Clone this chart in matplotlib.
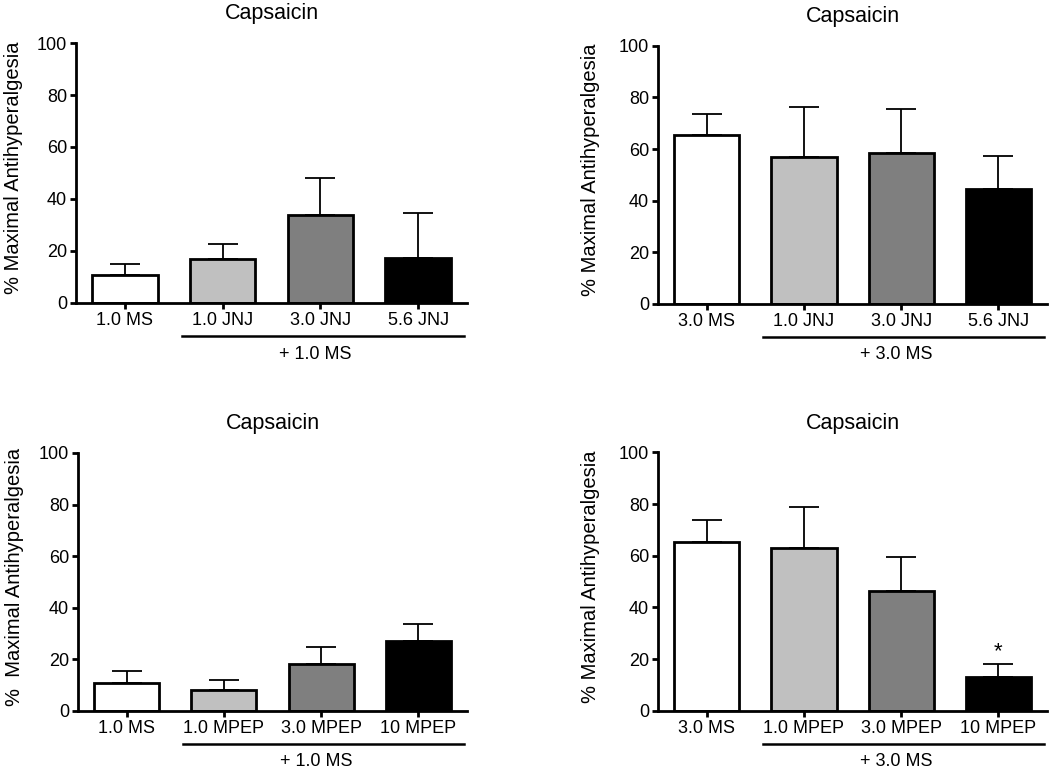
import matplotlib
matplotlib.use("Agg")
import matplotlib.pyplot as plt
import matplotlib.transforms as mtransforms

plt.rcParams["font.family"] = ["Liberation Sans", "DejaVu Sans"]

# data (mean and upper SEM)
jnj_labels_low = ["1.0 MS", "1.0 JNJ", "3.0 JNJ", "5.6 JNJ"]
jnj_labels_high = ["3.0 MS", "1.0 JNJ", "3.0 JNJ", "5.6 JNJ"]
mpep_labels_low = ["1.0 MS", "1.0 MPEP", "3.0 MPEP", "10 MPEP"]
mpep_labels_high = ["3.0 MS", "1.0 MPEP", "3.0 MPEP", "10 MPEP"]

jnj_low_mean = [10.6, 17.0, 33.8, 17.4]
jnj_low_sem = [4.3, 5.8, 14.2, 17.1]
jnj_high_mean = [65.4, 56.9, 58.5, 44.7]
jnj_high_sem = [8.2, 19.3, 17.0, 12.4]
mpep_low_mean = [10.7, 8.0, 18.0, 27.2]
mpep_low_sem = [4.6, 4.0, 6.8, 6.6]
mpep_high_mean = [65.4, 62.8, 46.2, 12.9]
mpep_high_sem = [8.4, 15.9, 13.2, 5.2]

combo_low = "+ 1.0 MS"
combo_high = "+ 3.0 MS"
ylab = "% Maximal Antihyperalgesia"
ylab_wide = "%  Maximal Antihyperalgesia"
bar_colors = ["white", "#c0c0c0", "#7f7f7f", "black"]

fig = plt.figure(figsize=(10.5, 7.68), dpi=100)


def draw_panel(rect, labels, means, sems, combo, ylabel, label_x, star=None):
    ax = fig.add_axes(rect)
    x = list(range(len(means)))
    ax.bar(x, means, width=0.67, color=bar_colors, edgecolor="black",
           linewidth=2.0, zorder=3)
    ax.errorbar(x, means, yerr=[[0] * len(sems), sems], fmt="none",
                ecolor="black", elinewidth=1.3, capsize=11, capthick=1.3,
                zorder=2)
    ax.set_xlim(-0.5, 3.5)
    ax.set_ylim(0, 100)
    ax.set_yticks([0, 20, 40, 60, 80, 100])
    ax.set_xticks(x)
    ax.set_xticklabels(labels)
    for side in ["top", "right"]:
        ax.spines[side].set_visible(False)
    for side in ["left", "bottom"]:
        ax.spines[side].set_linewidth(2.0)
        ax.spines[side].set_zorder(4)
    ax.tick_params(axis="both", direction="out", length=4.5, width=2.0,
                   labelsize=13, pad=2)
    ax.set_title("Capsaicin", fontsize=15.5, pad=17)
    ax.set_ylabel(ylabel, fontsize=14.5)
    ax.yaxis.set_label_coords(label_x, 0.52)

    trans = mtransforms.blended_transform_factory(ax.transData, ax.transAxes)
    ax.plot([0.58, 3.47], [-0.128, -0.128], color="black", lw=1.8,
            transform=trans, clip_on=False)
    ax.text(1.95, -0.197, combo, transform=trans, ha="center", va="center",
            fontsize=13)
    if star is not None:
        ax.text(star, means[star] + sems[star] + 0.5, "*", ha="center",
                va="bottom", fontsize=16)
    return ax


draw_panel([0.0724, 0.6055, 0.3724, 0.3385], jnj_labels_low,
           jnj_low_mean, jnj_low_sem, combo_low, ylab, -0.1355)
draw_panel([0.6267, 0.6042, 0.3705, 0.3363], jnj_labels_high,
           jnj_high_mean, jnj_high_sem, combo_high, ylab, -0.15)
draw_panel([0.0743, 0.0746, 0.3705, 0.3356], mpep_labels_low,
           mpep_low_mean, mpep_low_sem, combo_low, ylab_wide, -0.14)
draw_panel([0.6267, 0.0746, 0.3705, 0.3364], mpep_labels_high,
           mpep_high_mean, mpep_high_sem, combo_high, ylab, -0.15, star=3)

fig.savefig("out.png", dpi=100)
